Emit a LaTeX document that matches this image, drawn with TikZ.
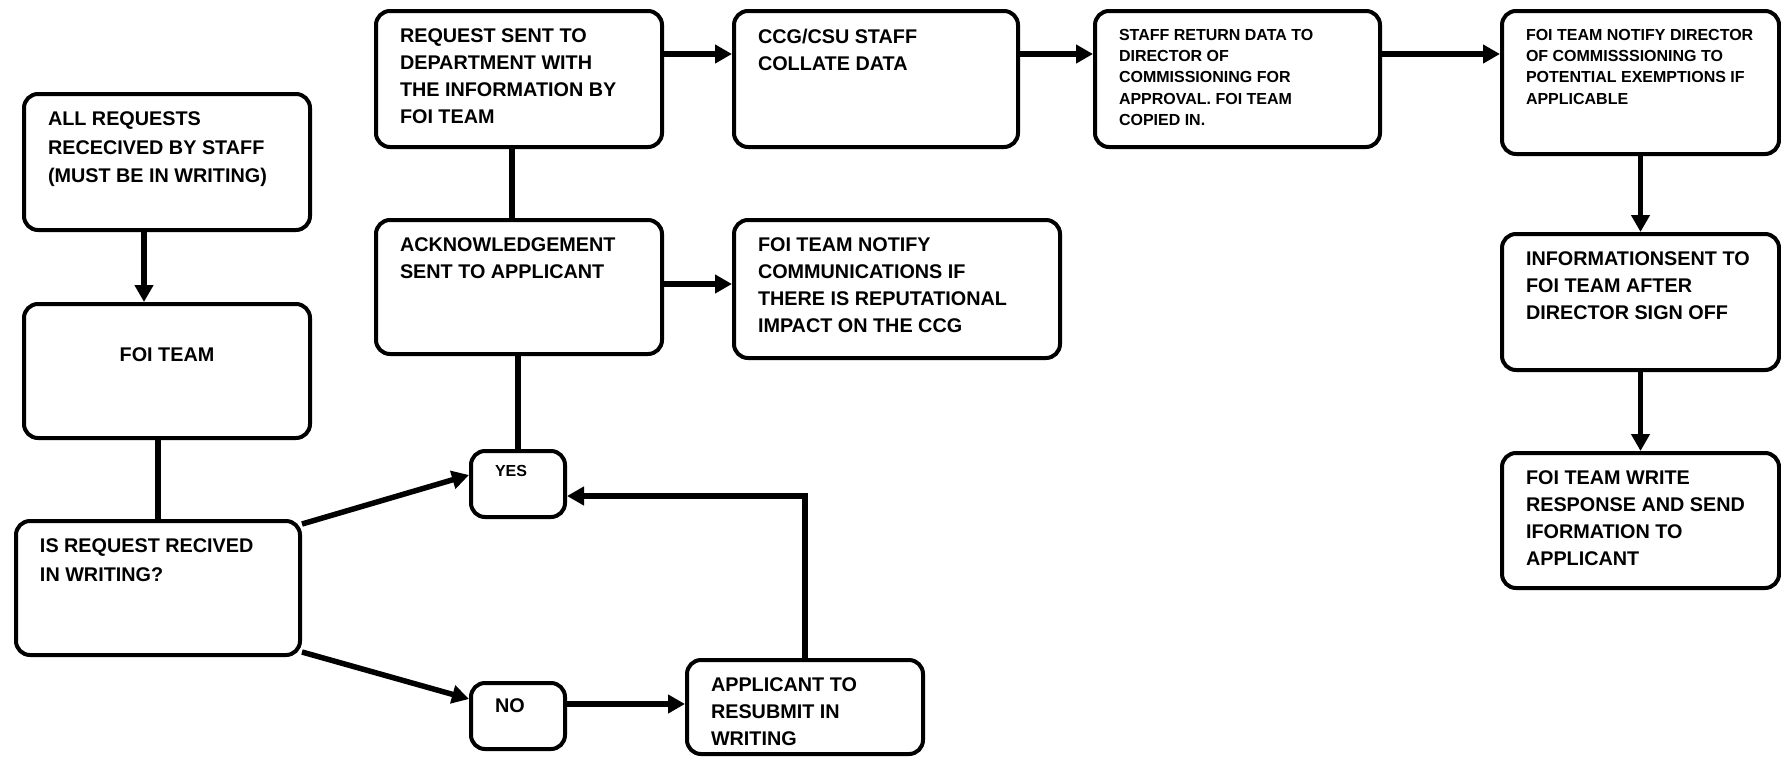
\documentclass[tikz,border=0pt]{standalone}
\usepackage{fontspec}
\setmainfont{Liberation Sans}
\usetikzlibrary{arrows.meta}

\newcommand{\bigfont}{\fontsize{19.8pt}{26.8pt}\selectfont}
\newcommand{\smallfont}{\fontsize{16pt}{21.3pt}\selectfont}
\newcommand{\boxtext}[4][18pt]{\parbox[c][#3][t]{#2}{\vspace*{#1}\raggedright\leftskip=24pt\relax #4}}

\begin{document}
\begin{tikzpicture}[x=1pt,y=-1pt,
  rbox/.style={draw,line width=4pt,rounded corners=14pt,inner sep=0pt,anchor=north west,font=\bfseries\bigfont},
  con/.style={line width=5.5pt},
  arr/.style={con,-{Triangle[length=17pt,width=18pt]}}]
\useasboundingbox (0,0) rectangle (1781,756);

\node[rbox] (allreq) at (22,92) {\boxtext{286pt}{136pt}{\baselineskip=28.4pt ALL REQUESTS\\RECECIVED BY STAFF\\(MUST BE IN WRITING)}};
\node[rbox] (foiteam) at (22,302) {\boxtext[44pt]{286pt}{134pt}{\centering FOI TEAM}};
\node[rbox] (decide) at (14,519) {\boxtext{284pt}{134pt}{\baselineskip=28.4pt IS REQUEST RECIVED\\IN WRITING?}};
\node[rbox,font=\bfseries\smallfont] (yes) at (469,449) {\boxtext[14pt]{94pt}{66pt}{YES}};
\node[rbox] (no) at (469,681) {\boxtext[16pt]{94pt}{66pt}{NO}};
\node[rbox] (apply) at (685,658) {\boxtext{236pt}{94pt}{APPLICANT TO\\RESUBMIT IN\\WRITING}};

\node[rbox] (request) at (374,9) {\boxtext{286pt}{136pt}{REQUEST SENT TO\\DEPARTMENT WITH\\THE INFORMATION BY\\FOI TEAM}};
\node[rbox] (ack) at (374,218) {\boxtext{286pt}{134pt}{ACKNOWLEDGEMENT\\SENT TO APPLICANT}};
\node[rbox] (ccg) at (732,9) {\boxtext{284pt}{136pt}{CCG/CSU STAFF\\COLLATE DATA}};
\node[rbox] (comm) at (732,218) {\boxtext{326pt}{138pt}{FOI TEAM NOTIFY\\COMMUNICATIONS IF\\THERE IS REPUTATIONAL\\IMPACT ON THE CCG}};
\node[rbox,font=\bfseries\smallfont] (staff) at (1093,9) {\boxtext{285pt}{136pt}{STAFF RETURN DATA TO\\DIRECTOR OF\\COMMISSIONING FOR\\APPROVAL. FOI TEAM\\COPIED IN.}};
\node[rbox,font=\bfseries\smallfont] (director) at (1500,9) {\boxtext{277pt}{143pt}{FOI TEAM NOTIFY DIRECTOR\\OF COMMISSSIONING TO\\POTENTIAL EXEMPTIONS IF\\APPLICABLE}};
\node[rbox] (info) at (1500,232) {\boxtext{277pt}{136pt}{INFORMATIONSENT TO\\FOI TEAM AFTER\\DIRECTOR SIGN OFF}};
\node[rbox] (write) at (1500,451) {\boxtext{277pt}{135pt}{FOI TEAM WRITE\\RESPONSE AND SEND\\IFORMATION TO\\APPLICANT}};

\draw[arr] ([xshift=-23pt]allreq.south) -- ([xshift=-23pt]foiteam.north);
\draw[con] ([xshift=-9pt]foiteam.south) -- (decide.north);
\draw[arr] ([yshift=-5pt]decide.north east) -- ([yshift=9pt]yes.west);
\draw[arr] ([yshift=5pt]decide.south east) -- ([yshift=17pt]no.west);
\draw[con] (yes.north) -- (yes.north |- ack.south);
\draw[con] ([xshift=-7pt]request.south) -- ([xshift=-7pt]ack.north);
\draw[arr] ([yshift=25pt]request.east) -- ([yshift=25pt]ccg.west);
\draw[arr] ([yshift=3pt]ack.east) -- ([yshift=3pt]ack.east -| comm.west);
\draw[arr] ([yshift=25pt]ccg.east) -- ([yshift=25pt]staff.west);
\draw[arr] ([yshift=25pt]staff.east) -- ([yshift=25pt]staff.east -| director.west);
\draw[arr] (director.south) -- (info.north);
\draw[arr] (info.south) -- (write.north);
\draw[arr] ([yshift=12pt]no.east) -- ([yshift=12pt]no.east -| apply.west);
\draw[arr] (apply.north) |- ([yshift=-12pt]yes.east);

\end{tikzpicture}
\end{document}
